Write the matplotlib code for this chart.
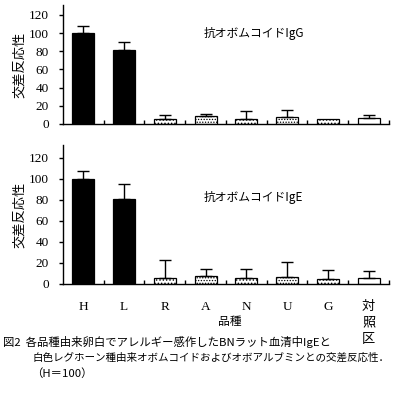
import numpy as np
import matplotlib
matplotlib.use("Agg")
import matplotlib.pyplot as plt

plt.rcParams['font.family'] = ['Noto Sans CJK JP', 'DejaVu Sans']
plt.rcParams['hatch.linewidth'] = 0.6

# data
categories = ["H", "L", "R", "A", "N", "U", "G", "対\n照\n区"]
igg_values = [100, 81, 6, 8.5, 6, 7.5, 6, 6.5]
igg_errors = [8, 9, 3.5, 2, 8, 8, 0, 3]
ige_values = [100, 80.5, 5.5, 7.5, 5.5, 6.5, 4.5, 5.5]
ige_errors = [7, 14, 17, 6.5, 8.5, 14, 8.5, 6.5]
y_ticks = [0, 20, 40, 60, 80, 100, 120]

# bar styles: solid, sparse dots, dense dots, open
face = ["black", "black", "white", "white", "white", "white", "white", "white"]
hatch = [None, None, ".....", "......", ".....", "......", ".....", None]

serif = ['Liberation Serif', 'Noto Sans CJK JP']


def draw_panel(ax, values, errors, ymax, label_text, label_y):
    x = np.arange(len(values))
    for i in range(len(values)):
        ax.bar(x[i], values[i], width=0.54, color=face[i], edgecolor="black",
               linewidth=0.9, hatch=hatch[i], zorder=2)
    errs = np.array(errors)
    vals = np.array(values)
    m = errs > 0
    ax.errorbar(x[m], vals[m], yerr=[np.zeros(m.sum()), errs[m]], fmt="none",
                ecolor="black", elinewidth=1.0, capsize=4.5, capthick=1.0, zorder=3)
    ax.set_xlim(-0.5, len(values) - 0.5)
    ax.set_ylim(0, ymax)
    ax.spines["top"].set_visible(False)
    ax.spines["right"].set_visible(False)
    ax.spines["left"].set_linewidth(1.0)
    ax.spines["bottom"].set_linewidth(1.0)
    ax.set_yticks(y_ticks)
    ax.set_yticklabels([str(t) for t in y_ticks], family=serif, fontsize=9.5)
    ax.tick_params(axis="y", direction="out", length=3, width=1, pad=7)
    # category boundaries as small inward ticks
    ax.set_xticks(np.arange(len(values)) + 0.5, minor=True)
    ax.tick_params(axis="x", which="minor", direction="in", length=3, width=1)
    ax.set_xticks(np.arange(len(values)))
    ax.tick_params(axis="x", which="major", length=0)
    ax.set_ylabel("交差反応性", fontsize=9.5, labelpad=2)
    ax.text(2.95, label_y, label_text, fontsize=8.5, va="center", ha="left")


fig = plt.figure(figsize=(4.02, 3.96), dpi=100)
ax1 = fig.add_axes([63 / 402, 1 - 124 / 396, 326 / 402, 119 / 396])
ax2 = fig.add_axes([63 / 402, 1 - 284 / 396, 326 / 402, 139 / 396])

draw_panel(ax1, igg_values, igg_errors, 131, "抗オボムコイドIgG", 100)
ax1.set_xticklabels([])
draw_panel(ax2, ige_values, ige_errors, 132, "抗オボムコイドIgE", 82)
ax2.set_xticklabels(categories, family=serif, fontsize=9.5, linespacing=1.5)
ax2.tick_params(axis="x", which="major", pad=12)

fig.text(230 / 402, 1 - 322 / 396, "品種", fontsize=8.5, ha="center", va="center")

fig.text(3 / 402, 1 - 342 / 396, "図2  各品種由来卵白でアレルギー感作したBNラット血清中IgEと",
         fontsize=8.2, ha="left", va="center")
fig.text(33 / 402, 1 - 358 / 396, "白色レグホーン種由来オボムコイドおよびオボアルブミンとの交差反応性．",
         fontsize=7.6, ha="left", va="center")
fig.text(31 / 402, 1 - 373 / 396, "（H＝100）", fontsize=8.2, ha="left", va="center")

fig.savefig("out.png", dpi=100)
